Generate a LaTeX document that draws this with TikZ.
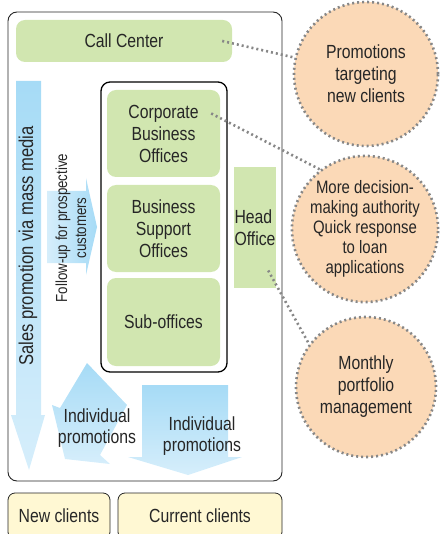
\documentclass[tikz,border=0pt]{standalone}
\usepackage{fontspec}
\setmainfont{Liberation Sans}[FakeStretch=0.83]
\usepackage{tikz}
\usetikzlibrary{arrows,shapes}
\usetikzlibrary{positioning}
\definecolor{officegreen}{RGB}{209,230,176}
\definecolor{clientyellow}{RGB}{255,248,211}
\definecolor{notepeach}{RGB}{251,217,183}
\definecolor{mediablue}{RGB}{166,219,246}
\definecolor{paleblue}{RGB}{214,238,251}
\definecolor{dotgray}{RGB}{135,135,135}
\definecolor{inkgray}{RGB}{38,38,38}
\tikzstyle{office}=[fill=officegreen, rounded corners=9pt, text=inkgray,
                align=center, inner sep=0pt, font=\fontsize{19}{22}\selectfont]
\tikzstyle{client}=[draw=inkgray, fill=clientyellow, rounded corners=7pt,
                line width=0.8pt, text=inkgray, inner sep=0pt,
                font=\fontsize{19}{22}\selectfont]
\tikzstyle{note}=[circle, fill=notepeach, draw=dotgray, line width=2.6pt,
                dash pattern=on 2pt off 3pt, text=inkgray, align=center,
                inner sep=0pt, minimum size=144pt, font=\fontsize{19}{22}\selectfont]
\tikzstyle{memo}=[draw=dotgray, line width=2.6pt, dash pattern=on 2pt off 3pt]
\tikzstyle{flow}=[top color=mediablue, bottom color=paleblue, draw=none]
\tikzstyle{lbl}=[text=inkgray, align=center, inner sep=0pt,
                font=\fontsize{19}{21}\selectfont]

\begin{document}
\begin{tikzpicture}[x=1pt, y=-1pt]
  \useasboundingbox (0,0) rectangle (443,534);
  % bank frame
  \draw[inkgray, line width=0.9pt, rounded corners=9pt] (8,12) rectangle (282,481);
  \node[office, minimum width=216pt, minimum height=42pt] (callcenter) at (124,41) {Call Center};
  \draw[black, line width=1.3pt, rounded corners=9pt] (101,82) rectangle (227,372);
  \node[office, minimum width=113pt, minimum height=87pt] (corporate) at (163.5,133.5)
    {Corporate\\Business\\Offices};
  \node[office, minimum width=113pt, minimum height=87pt] (support) at (163.5,228.5)
    {Business\\Support\\Offices};
  \node[office, minimum width=113pt, minimum height=88pt] (sub) at (163.5,322)
    {Sub-offices};
  \node[office, rounded corners=0pt, align=left, minimum width=42pt, minimum height=121pt]
    (head) at (255,227.5) {Head\\Office};

  % promotion arrows
  \shade[flow] (16,81) -- (41,81) -- (41,415) -- (45,415) -- (29,470) -- (11,415)
    -- (16,415) -- cycle;
  \shade[flow, left color=paleblue, right color=mediablue] (47,191) -- (86,191)
    -- (86,178) -- (97,227) -- (86,275) -- (86,263) -- (47,263) -- cycle;
  \shade[flow] (87,363) -- (127,405) -- (100,455) -- (110,464) -- (65,459)
    -- (52,405) -- (60,408) -- cycle;
  \shade[flow] (142,385) -- (228,385) -- (228,457) -- (242,457) -- (188,475)
    -- (128,457) -- (142,457) -- cycle;
  \node[lbl, rotate=90, font=\fontsize{20}{22}\selectfont] (mass) at (28,246)
    {Sales promotion via mass media};
  \node[lbl, rotate=90, font=\fontsize{16}{19}\selectfont] (followup) at (71,228)
    {Follow-up for prospective\\customers};
  \node[lbl] (indnew) at (97,428) {Individual\\promotions};
  \node[lbl] (indcur) at (202,436) {Individual\\promotions};

  % clients
  \node[client, minimum width=102pt, minimum height=46pt] (newcl) at (59,516) {New clients};
  \node[client, minimum width=164pt, minimum height=46pt] (curcl) at (200,516) {Current clients};

  % notes
  \node[note] (promo) at (366,74) {Promotions\\targeting\\new clients};
  \node[note, font=\fontsize{18}{20}\selectfont] (decision) at (365,229)
    {More decision-\\making authority\\Quick response\\to loan\\applications};
  \node[note, minimum size=140pt] (monthly) at (366,387) {Monthly\\portfolio\\management};
  \draw[memo] ([xshift=-10pt]callcenter.east) -- (promo);
  \draw[memo] ([shift={(-9pt,20pt)}]corporate.east) -- (decision.127);
  \draw[memo] ([shift={(-8pt,-43pt)}]head.east) -- (monthly.143);
\end{tikzpicture}
\end{document}
